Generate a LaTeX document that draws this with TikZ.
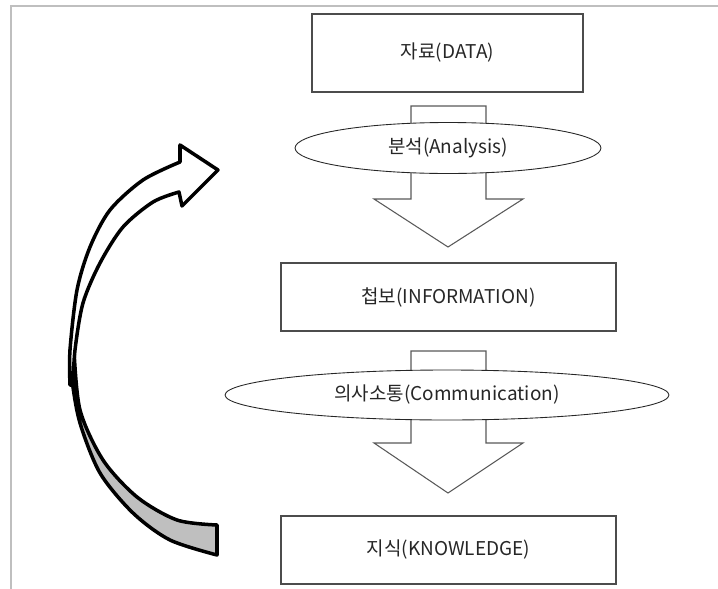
\documentclass[tikz,border=0pt]{standalone}
\usepackage{fontspec}
\newfontfamily\krfont{Noto Sans CJK KR}
\usetikzlibrary{shapes.geometric}
\begin{document}
\begin{tikzpicture}[x=0.02cm,y=-0.02cm,
    box/.style={draw=black!70,line width=0.7pt,inner sep=0pt,text=black!85,
        font=\krfont\fontsize{10.8}{12}\selectfont},
    lens/.style={ellipse,draw=black!85,line width=0.5pt,fill=white,inner sep=0pt,text=black!85,
        font=\krfont\fontsize{10.8}{12}\selectfont},
    flow/.style={draw=black!65,line width=0.6pt,fill=white,line join=miter},
    loopband/.style={draw=black,line width=2pt,line join=round}]
    \useasboundingbox (0,0) rectangle (718,589);
    \draw[black!25,line width=1pt] (11,589) -- (11,6) -- (718,6);

    \node[box,minimum width=5.42cm,minimum height=1.56cm] (data) at (447.5,53) {자료(DATA)};
    \node[box,minimum width=6.7cm,minimum height=1.36cm] (info) at (448.5,297) {첩보(INFORMATION)};
    \node[box,minimum width=6.7cm,minimum height=1.36cm] (know) at (448.5,550) {지식(KNOWLEDGE)};

    \draw[flow] (411,106) -- (486,106) -- (486,199) -- (523,199) -- (448,247) -- (374,199) -- (411,199) -- cycle;
    \draw[flow] (411,351) -- (486,351) -- (486,443) -- (523,443) -- (448,493) -- (374,443) -- (411,443) -- cycle;

    \node[lens,minimum width=6.12cm,minimum height=1.02cm] (ana) at (448,148) {분석(Analysis)};
    \node[lens,minimum width=8.88cm,minimum height=1cm] (comm) at (447,395) {의사소통(Communication)};

    \draw[loopband,fill=black!25] plot[smooth] coordinates {(70,350) (72,380) (80,423) (100,473) (133,513) (170,540) (217,555)}
        -- (217,525) -- plot[smooth] coordinates {(217,525) (177,520) (137,497) (103,460) (80,410) (74,350)} -- cycle;
    \draw[loopband,fill=white] plot[smooth] coordinates {(70,385) (70,350) (77,290) (90,247) (110,210) (143,180) (180,162)}
        -- (180,145) -- (218,170) -- (182,206) -- (179,192)
        -- plot[smooth] coordinates {(179,192) (153,202) (123,227) (100,263) (83,303) (75,350) (73,385)} -- cycle;
\end{tikzpicture}
\end{document}
